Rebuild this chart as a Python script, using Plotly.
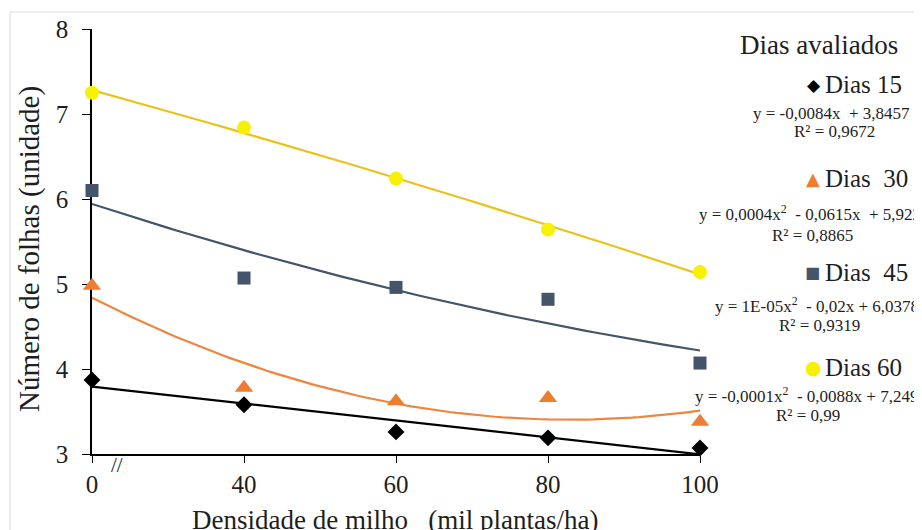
import numpy as np
import plotly.graph_objects as go

# ---------------- data ----------------
densidade = ["0", "40", "60", "80", "100"]
dias15 = [3.87, 3.58, 3.26, 3.19, 3.07]
dias30 = [4.98, 3.78, 3.62, 3.66, 3.38]
dias45 = [6.10, 5.07, 4.96, 4.82, 4.07]
dias60 = [7.25, 6.84, 6.24, 5.64, 5.14]
serie_nomes = ["Dias 15", "Dias\u00a0 30", "Dias\u00a0 45", "Dias 60"]
equacoes = [
    "y = -0,0084x\u00a0 + 3,8457",
    "y = 0,0004x<sup>2</sup>\u00a0 - 0,0615x\u00a0 + 5,922",
    "y = 1E-05x<sup>2</sup>\u00a0 - 0,02x + 6,0378",
    "y = -0,0001x<sup>2</sup>\u00a0 - 0,0088x + 7,249",
]
r2_textos = ["R² = 0,9672", "R² = 0,8865", "R² = 0,9319", "R² = 0,99"]
grau_tendencia = [1, 2, 2, 2]
y_ticks = [3, 4, 5, 6, 7, 8]
titulo_legenda = "Dias avaliados"
titulo_x = "Densidade de milho\u00a0\u00a0 (mil plantas/ha)"
titulo_y = "Número de folhas (unidade)"

# ---------------- styles ----------------
OFF = 8                      # page body margin of the html page
W, H = 922 - OFF, 530 - OFF  # figure size so that it fills the window
# plot-area edges, in window pixels
L, R, T, B = 92, 700, 29, 454
FONT = "Liberation Serif"
TXT = "#1e1e1e"
series = [dias15, dias30, dias45, dias60]
marker_sym = ["diamond", "triangle-up", "square", "circle"]
marker_size = [13, 16, 13, 14]
marker_col = ["#000000", "#ED7D31", "#44546A", "#F7F000"]
line_col = ["#000000", "#EE8640", "#44546A", "#E8C31C"]
glyphs = ["\u25C6", "\u25B2", "\u25A0", "\u25CF"]
glyph_size = [17, 18, 16, 19]


def xp(px):
    return (px - L) / (R - L)


def yp(py):
    return (B - py) / (B - T)


def f(size, color=TXT, family=FONT):
    return dict(size=size, color=color, family=family)


xs = np.arange(len(densidade))
fig = go.Figure()
for vals, g, lc in zip(series, grau_tendencia, line_col):
    coef = np.polyfit(xs, vals, g)
    xx = np.linspace(xs[0], xs[-1], 81)
    fig.add_trace(go.Scatter(x=xx, y=np.polyval(coef, xx), mode="lines",
                             line=dict(color=lc, width=2.2), hoverinfo="skip",
                             showlegend=False, cliponaxis=False))
for vals, sym, sz, mc in zip(series, marker_sym, marker_size, marker_col):
    fig.add_trace(go.Scatter(x=xs, y=vals, mode="markers",
                             marker=dict(symbol=sym, size=sz, color=mc, line=dict(width=0)),
                             showlegend=False, cliponaxis=False))

fig.update_layout(
    width=W, height=H,
    margin=dict(l=L - OFF, r=922 - R, t=T - OFF, b=530 - B, pad=0, autoexpand=False),
    paper_bgcolor="white", plot_bgcolor="white",
    font=f(25),
    showlegend=False,
)
fig.update_xaxes(range=[0, len(densidade) - 1], tickmode="array", tickvals=list(xs),
                 ticktext=densidade, showgrid=False, zeroline=False,
                 showline=True, linecolor="#000000", linewidth=1.5,
                 ticks="outside", ticklen=7, tickcolor="#000000", tickwidth=1.2,
                 tickfont=f(25), layer="below traces", automargin=False)
fig.update_yaxes(range=[3, 8], tickmode="array", tickvals=y_ticks,
                 showgrid=False, zeroline=False,
                 showline=True, linecolor="#000000", linewidth=1.5,
                 ticks="outside", ticklen=8, tickcolor="#000000", tickwidth=1.2,
                 ticklabelstandoff=9,
                 tickfont=f(25), layer="below traces", automargin=False)

ann = []
# axis titles
ann.append(dict(x=xp(395), y=yp(520), xref="paper", yref="paper", text=titulo_x,
                showarrow=False, font=f(27), xanchor="center", yanchor="middle"))
ann.append(dict(x=xp(30), y=yp(249), xref="paper", yref="paper", text=titulo_y,
                showarrow=False, font=f(29), textangle=-90,
                xanchor="center", yanchor="middle"))
# break mark
ann.append(dict(x=xp(117), y=yp(465), xref="paper", yref="paper", text="//",
                showarrow=False, font=f(21), xanchor="center", yanchor="middle"))
# legend title
ann.append(dict(x=xp(819), y=yp(45), xref="paper", yref="paper", text=titulo_legenda,
                showarrow=False, font=f(27), xanchor="center", yanchor="middle"))

name_y = [85, 178, 272, 367]
glyph_x = [814, 813, 812, 813]
eq_y = [114, 213, 305, 395]
eq_x = [831, 810, 817, 807]
r2_y = [131, 235, 325, 415]
r2_x = [834, 812, 819, 808]
for i in range(4):
    ann.append(dict(x=xp(glyph_x[i]), y=yp(name_y[i]), xref="paper", yref="paper",
                    text=glyphs[i], showarrow=False,
                    font=f(glyph_size[i], marker_col[i], "DejaVu Sans"),
                    xanchor="center", yanchor="middle"))
    ann.append(dict(x=xp(823), y=yp(name_y[i]), xref="paper", yref="paper",
                    text=serie_nomes[i], showarrow=False, font=f(25),
                    xanchor="left", yanchor="middle"))
    ann.append(dict(x=xp(eq_x[i]), y=yp(eq_y[i]), xref="paper", yref="paper",
                    text=equacoes[i], showarrow=False, font=f(17),
                    xanchor="center", yanchor="middle"))
    ann.append(dict(x=xp(r2_x[i]), y=yp(r2_y[i]), xref="paper", yref="paper",
                    text=r2_textos[i], showarrow=False, font=f(17),
                    xanchor="center", yanchor="middle"))

fig.update_layout(annotations=ann)
fig.add_shape(type="rect", xref="paper", yref="paper",
              x0=xp(10), x1=xp(940), y0=yp(560), y1=yp(12),
              line=dict(color="#DADADA", width=1), fillcolor="rgba(0,0,0,0)", layer="below")

fig.write_html("out.html")
